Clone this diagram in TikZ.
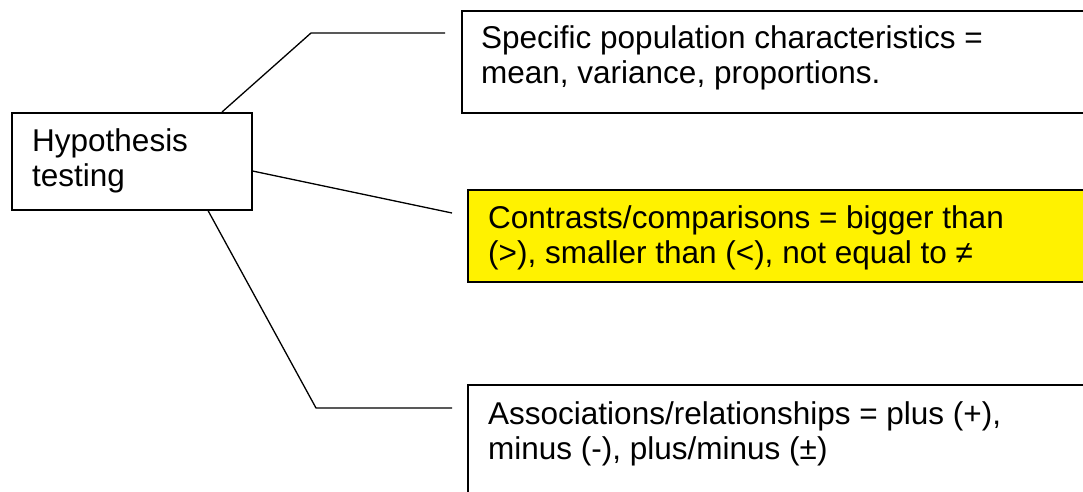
\documentclass[tikz,border=0pt]{standalone}
\usepackage{fontspec}
\setmainfont{Liberation Sans}
\usetikzlibrary{calc}
\begin{document}
\begin{tikzpicture}[x=1pt,y=-1pt,
  box/.style={draw=black,line width=1.5pt,rectangle,inner sep=0pt,anchor=north west},
  txt/.style={anchor=base west,inner sep=0pt,align=left,font=\fontsize{31.5}{34.5}\selectfont},
  link/.style={draw=black,line width=1.3pt}]
\clip (0,0) rectangle (1083,491);
\fill[white] (0,0) rectangle (1083,491);

% root box; each text node is placed by the baseline of its last line
\node[box,minimum width=240pt,minimum height=97pt] (hyp) at (11,112) {};
\node[txt] (hyptxt) at (32,186) {Hypothesis\\testing};

% the three branch boxes (they run past the right and bottom edges)
\node[box,minimum width=660pt,minimum height=102pt] (spec) at (461,10) {};
\node[txt] (spectxt) at (481,83) {Specific population characteristics =\\mean, variance, proportions.};

\node[box,fill=yellow,minimum width=660pt,minimum height=92pt] (cont) at (467,189) {};
\node[txt] (conttxt) at (488,263) {Contrasts/comparisons = bigger than\\(>), smaller than (<), not equal to ≠};

\node[box,minimum width=660pt,minimum height=140pt] (assoc) at (467,384) {};
\node[txt] (assoctxt) at (488,459) {Associations/relationships = plus (+),\\minus (-), plus/minus (±)};

% elbows of the connectors
\coordinate (k1) at (311,33);
\coordinate (k3) at (316,408);
\coordinate (e1) at ($(spec.north west |- k1)+(-16,0)$);
\coordinate (e2) at ($(cont.north west)+(-15,24)$);
\coordinate (e3) at ($(assoc.north west |- k3)+(-15,0)$);

\draw[link] ($(hyp.north west)+(211,0)$) -- (k1) -- (e1);
\draw[link] ($(hyp.north east)+(0,59)$) -- (e2);
\draw[link] ($(hyp.south west)+(197,0)$) -- (k3) -- (e3);
\end{tikzpicture}
\end{document}
